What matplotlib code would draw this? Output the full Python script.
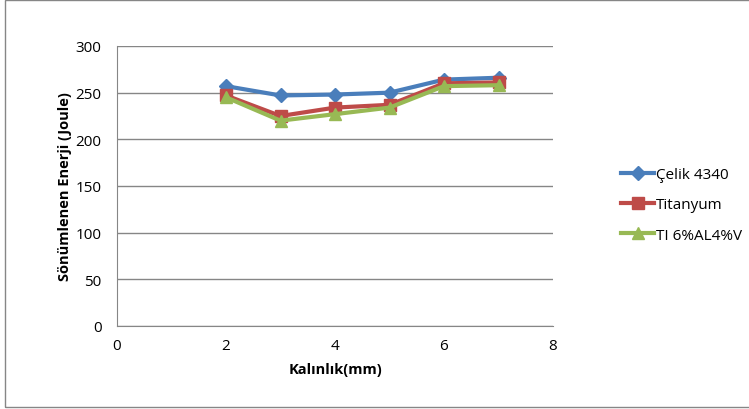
import matplotlib.pyplot as plt
from matplotlib.patches import Rectangle

plt.rcParams["font.family"] = ["Open Sans", "DejaVu Sans"]

# plate thickness (mm)
kalinlik = [2, 3, 4, 5, 6, 7]
# absorbed energy (J) per material
celik = [257, 247, 248, 250, 264, 266]
titanyum = [247, 225, 234, 237, 260, 261]
ti_alloy = [245, 220, 227, 234, 257, 258]

fig = plt.figure(figsize=(7.49, 4.10), dpi=100)
ax = fig.add_axes([117 / 749, 1 - 327 / 410, 436 / 749, 280 / 410])

ax.plot(kalinlik, celik, color="#4a7ebb", lw=3, marker="D", ms=7, label="Çelik 4340")
ax.plot(kalinlik, titanyum, color="#be4b48", lw=3, marker="s", ms=8, label="Titanyum")
ax.plot(kalinlik, ti_alloy, color="#98b954", lw=3, marker="^", ms=9, label="TI 6%AL4%V")

ax.set_xlim(0, 8)
ax.set_ylim(0, 300)
ax.set_xticks(range(0, 9, 2))
ax.set_yticks(range(0, 301, 50))
ax.grid(axis="y", color="#868686", lw=1)
ax.set_axisbelow(True)
for s in ("top", "right"):
    ax.spines[s].set_visible(False)
for s in ("left", "bottom"):
    ax.spines[s].set_color("#868686")
ax.tick_params(axis="both", length=0, labelsize=11, pad=9)
ax.tick_params(axis="y", pad=11)

ax.set_xlabel("Kalınlık(mm)", fontsize=10.5, fontweight="bold", labelpad=6)
ax.set_ylabel("Sönümlenen Enerji (Joule)", fontsize=10.5, fontweight="bold", labelpad=3)

ax.legend(loc="center left", bbox_to_anchor=(607 / 749, 1 - 206 / 410),
          bbox_transform=fig.transFigure, frameon=False, fontsize=11,
          handlelength=2.2, labelspacing=1.0, handletextpad=0.1)

# chart border
fig.add_artist(Rectangle((5 / 749, 2 / 410), 1.2, 1 - 2.5 / 410, transform=fig.transFigure,
                         fill=False, edgecolor="#868686", lw=1))

fig.savefig("out.png", dpi=100)
